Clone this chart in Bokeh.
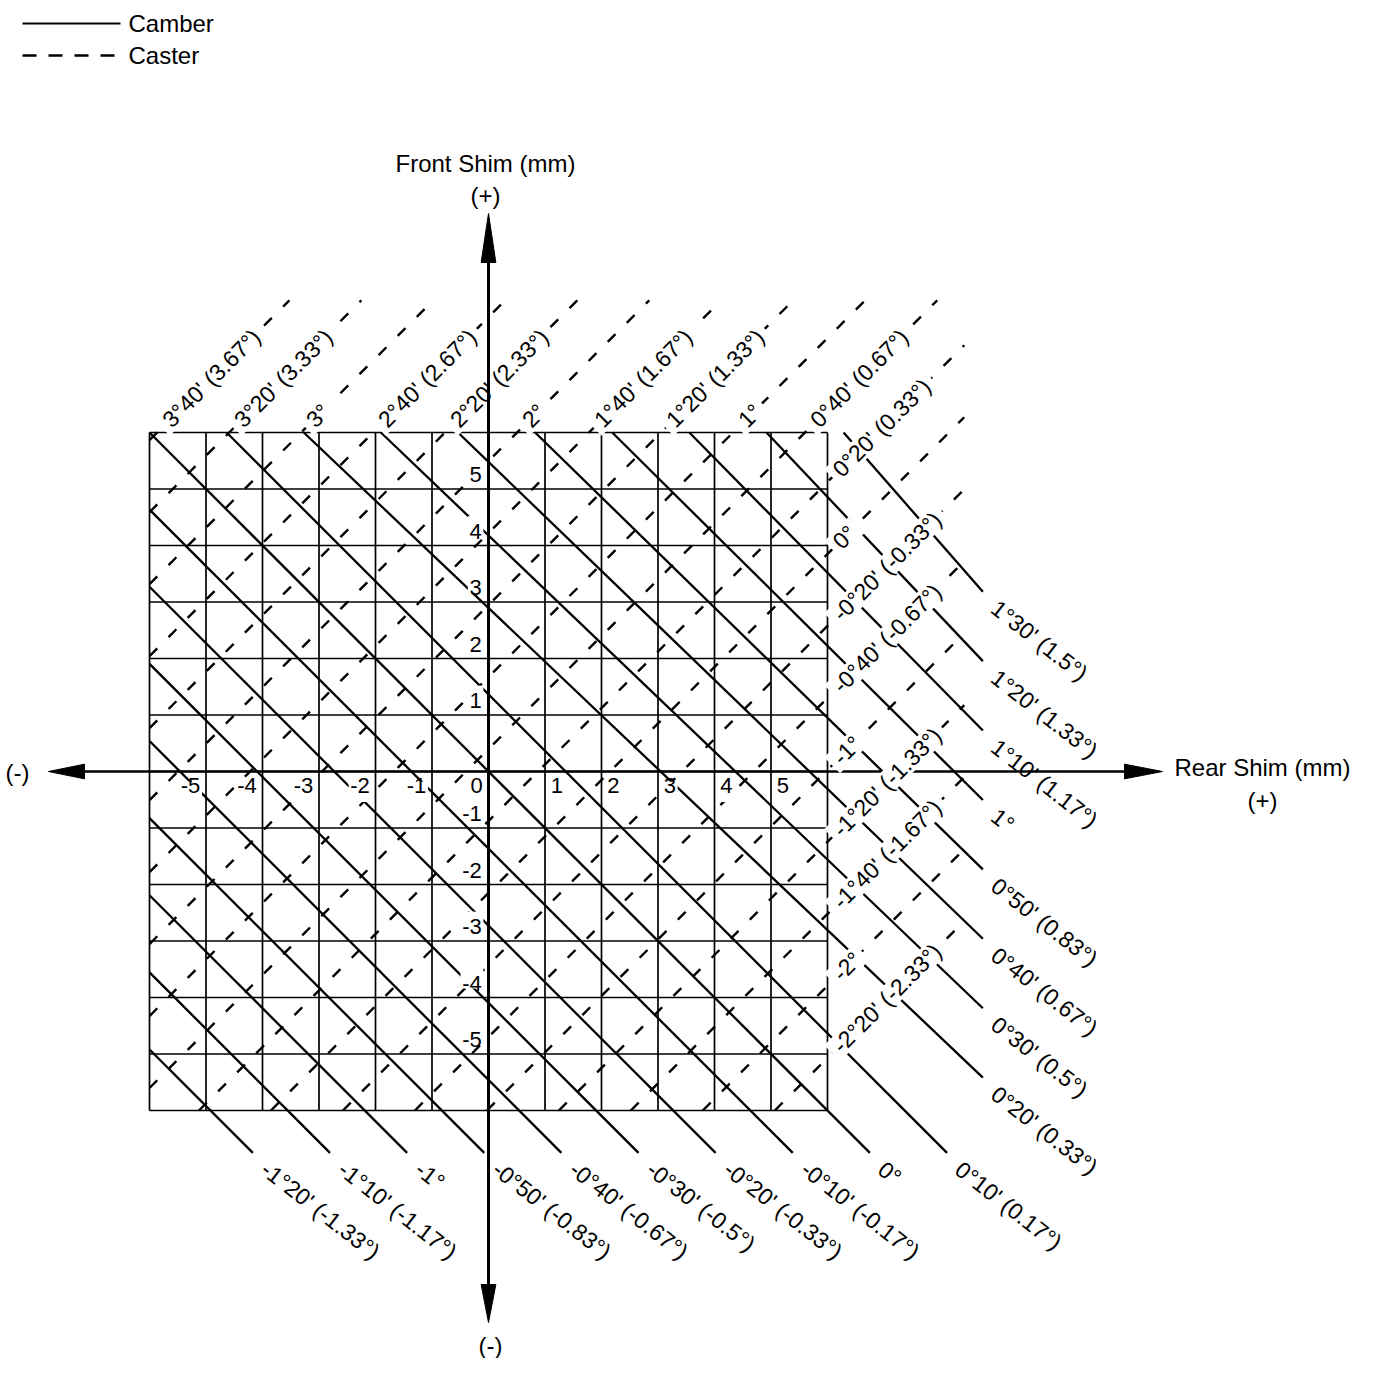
import numpy as np
from bokeh.plotting import figure
from bokeh.models import Range1d
from bokeh.embed import file_html
from bokeh.resources import INLINE
from bokeh.core.properties import value

# ---------------- data ----------------
shim_ticks = [-5, -4, -3, -2, -1, 0, 1, 2, 3, 4, 5]
grid_mm = [-6, -5, -4, -3, -2, -1, 0, 1, 2, 3, 4, 5, 6]

camber_minutes = [-80, -70, -60, -50, -40, -30, -20, -10, 0, 10, 20, 30, 40, 50, 60, 70, 80, 90]
camber_labels = ["-1°20' (-1.33°)", "-1°10' (-1.17°)", "-1°", "-0°50' (-0.83°)",
                 "-0°40' (-0.67°)", "-0°30' (-0.5°)", "-0°20' (-0.33°)", "-0°10' (-0.17°)",
                 "0°", "0°10' (0.17°)", "0°20' (0.33°)", "0°30' (0.5°)", "0°40' (0.67°)",
                 "0°50' (0.83°)", "1°", "1°10' (1.17°)", "1°20' (1.33°)", "1°30' (1.5°)"]

caster_minutes = [220, 200, 180, 160, 140, 120, 100, 80, 60, 40, 20, 0,
                  -20, -40, -60, -80, -100, -120, -140]
caster_labels = ["3°40' (3.67°)", "3°20' (3.33°)", "3°", "2°40' (2.67°)", "2°20' (2.33°)",
                 "2°", "1°40' (1.67°)", "1°20' (1.33°)", "1°", "0°40' (0.67°)",
                 "0°20' (0.33°)", "0°", "-0°20' (-0.33°)", "-0°40' (-0.67°)", "-1°",
                 "-1°20' (-1.33°)", "-1°40' (-1.67°)", "-2°", "-2°20' (-2.33°)"]

# chart scale: shim sum (front+rear, mm) per minute of camber, shim difference per minute of caster
CAMBER_MM_PER_MIN = 0.1365
CASTER_MM_PER_MIN = 0.0637
CASTER_ZERO = -2.15

# ---------------- layout helpers ----------------
OX, OY, S = 488.0, 771.0, 56.5
def X(px):
    return (px - OX) / S
def Y(py):
    return (OY - py) / S

W, H = 1360, 1358
FONT = value("Liberation Sans")
LBL_PX = 23
TICK_PX = 22

_CW = {"°": 400, "'": 191, " ": 278, "(": 333, ")": 333, ".": 278, "-": 333}
def text_len(s, px):
    return sum(_CW.get(ch, 556) for ch in s) * px / 1000.0 / S

p = figure(width=W, height=H, x_range=Range1d(X(0), X(W)), y_range=Range1d(Y(H), Y(0)),
           output_backend="svg", toolbar_location=None, x_axis_type=None, y_axis_type=None,
           min_border=0, min_border_left=0, min_border_right=0, min_border_top=0, min_border_bottom=0)
p.outline_line_color = None
p.xgrid.visible = False
p.ygrid.visible = False
p.background_fill_color = "white"
p.border_fill_color = "white"

G = 6.0
# grid
n = len(grid_mm)
p.segment(x0=grid_mm, y0=[-G] * n, x1=grid_mm, y1=[G] * n, line_color="black", line_width=1.7)
p.segment(x0=[-G] * n, y0=grid_mm, x1=[G] * n, y1=grid_mm, line_color="black", line_width=1.7)

# horizontal axis
p.segment(x0=[X(80)], y0=[0], x1=[X(1128)], y1=[0], line_color="black", line_width=2.6)

# camber lines: front + rear = const (leader lines fan out slightly beyond the grid)
CX_END, CY_END, FAN = 8.75, -6.75, 0.9
cx0, cy0, cx1, cy1, clx, cly = [], [], [], [], [], []
for m in camber_minutes:
    c = m * CAMBER_MM_PER_MIN
    if c >= 0:
        x0, y0 = c - G, G
    else:
        x0, y0 = -G, c + G
    ye = FAN * (c - CX_END)
    if c <= 0.05 or ye < CY_END + 0.15:
        x1, y1 = c - CY_END, CY_END
    else:
        x1, y1 = CX_END, ye
    cx0.append(x0); cy0.append(y0); cx1.append(x1); cy1.append(y1)
    clx.append(x1 + 0.2); cly.append(y1 - 0.24)
p.segment(x0=cx0, y0=cy0, x1=cx1, y1=cy1, line_color="black", line_width=2.3)

# caster lines: front - rear = const
KY_END, KX_END = 8.34, 8.42
r2 = np.sqrt(0.5)
kx0, ky0, kx1, ky1, klx, kly, rx, ry, rw = [], [], [], [], [], [], [], [], []
for m, lab in zip(caster_minutes, caster_labels):
    k = m * CASTER_MM_PER_MIN + CASTER_ZERO
    if k >= 0:
        x0, y0 = -G, k - G
        ex, ey = G - k, G
    else:
        x0, y0 = -G - k, -G
        ex, ey = G, G + k
    if k + KX_END <= KY_END:
        x1, y1 = KX_END, KX_END + k
    else:
        x1, y1 = KY_END - k, KY_END
    kx0.append(x0); ky0.append(y0); kx1.append(x1); ky1.append(y1)
    sx, sy = ex + 0.16, ey + 0.16
    klx.append(sx); kly.append(sy)
    L = text_len(lab, LBL_PX)
    rx.append(sx + (L / 2) * r2); ry.append(sy + (L / 2) * r2); rw.append(L + 0.22)
p.segment(x0=kx0, y0=ky0, x1=kx1, y1=ky1, line_color="black", line_width=2.4, line_dash="11 16")

# white gaps behind caster labels (labels break the lines)
p.rect(x=rx, y=ry, width=rw, height=[0.4] * len(rw), angle=np.deg2rad(45),
       fill_color="white", line_color=None)

# tick label positions and white gaps behind them
xt_x = [t - 0.1 if t <= 0 else t + 0.1 for t in shim_ticks]
xt_al = ["right" if t <= 0 else "left" for t in shim_ticks]
xt_len = [text_len(str(t), TICK_PX) for t in shim_ticks]
xt_cx = [xx - l / 2 if t <= 0 else xx + l / 2 for xx, l, t in zip(xt_x, xt_len, shim_ticks)]
yt = [t for t in shim_ticks if t != 0]
yt_len = [text_len(str(t), TICK_PX) for t in yt]
p.rect(x=xt_cx + [-0.12 - l / 2 for l in yt_len],
       y=[-0.12 - 0.24] * len(shim_ticks) + [t + 0.12 + 0.22 for t in yt],
       width=[l + 0.06 for l in xt_len + yt_len], height=[0.36] * (len(xt_len) + len(yt_len)),
       fill_color="white", line_color=None)

# caster labels
p.text(x=klx, y=kly, text=caster_labels, angle=np.deg2rad(45), text_align="left",
       text_baseline="middle", text_font=FONT, text_font_size=f"{LBL_PX}px", text_color="black")

# camber labels
p.text(x=clx, y=cly, text=camber_labels, angle=np.deg2rad(-38), text_align="left",
       text_baseline="middle", text_font=FONT, text_font_size=f"{LBL_PX}px", text_color="black")

# vertical axis
p.segment(x0=[0], y0=[Y(255)], x1=[0], y1=[Y(1290)], line_color="black", line_width=3)

# arrow heads
hw = 0.13
p.patches(xs=[[0, -hw, hw], [0, -hw, hw], [X(48), X(84), X(84)], [X(1162), X(1124), X(1124)]],
          ys=[[Y(213), Y(262), Y(262)], [Y(1322), Y(1284), Y(1284)], [0, hw, -hw], [0, hw, -hw]],
          fill_color="black", line_color="black", line_width=1)

# tick labels
p.text(x=xt_x, y=[-0.12] * len(shim_ticks), text=[str(t) for t in shim_ticks], text_align=xt_al,
       text_baseline="top", text_font=FONT, text_font_size=f"{TICK_PX}px", text_color="black")
p.text(x=[-0.12] * len(yt), y=[t + 0.12 for t in yt], text=[str(t) for t in yt], text_align="right",
       text_baseline="bottom", text_font=FONT, text_font_size=f"{TICK_PX}px", text_color="black")

# axis titles
p.text(x=[X(485), X(485), X(1262), X(1262), X(17), X(490)],
       y=[Y(163), Y(195), Y(767), Y(800), Y(772), Y(1345)],
       text=["Front Shim (mm)", "(+)", "Rear Shim (mm)", "(+)", "(-)", "(-)"],
       text_align="center", text_baseline="middle", text_font=FONT, text_font_size="24px",
       text_color="black")

# legend
p.segment(x0=[X(22)], y0=[Y(23)], x1=[X(120)], y1=[Y(23)], line_color="black", line_width=2)
p.segment(x0=[X(22)], y0=[Y(55)], x1=[X(120)], y1=[Y(55)], line_color="black", line_width=2.4,
          line_dash="14 12")
p.text(x=[X(128), X(128)], y=[Y(23), Y(55)], text=["Camber", "Caster"], text_align="left",
       text_baseline="middle", text_font=FONT, text_font_size="24px", text_color="black")

open("out.html", "w").write(file_html(p, INLINE))
